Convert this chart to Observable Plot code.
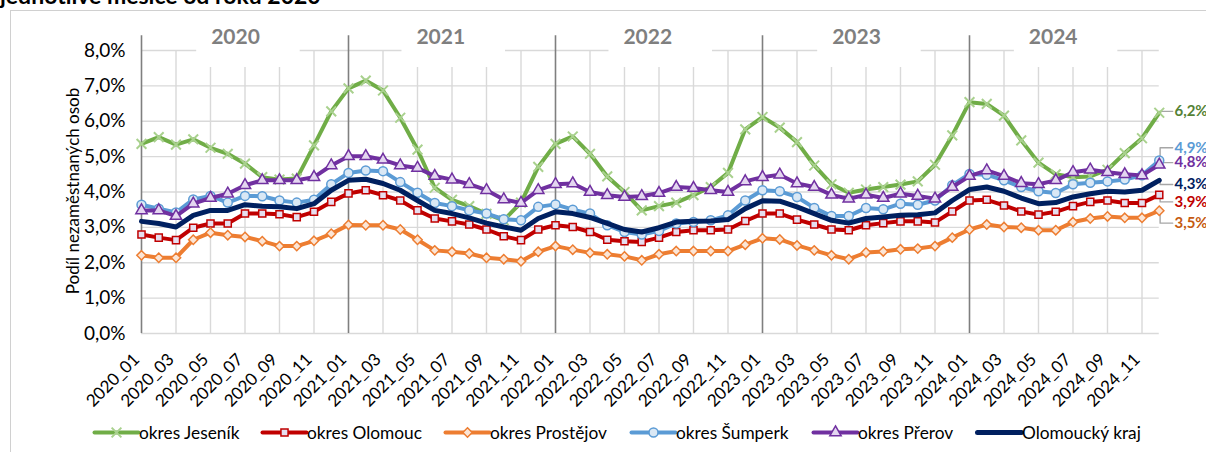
<!DOCTYPE html>
<html><head><meta charset="utf-8">
<script src="https://cdn.jsdelivr.net/npm/d3@7"></script>
<script src="https://cdn.jsdelivr.net/npm/@observablehq/plot@0.6"></script>
<style>
body{margin:0;background:#fff;}
#wrap{position:relative;width:1206px;height:452px;overflow:hidden;background:#fff;font-family:Lato,"Open Sans",sans-serif;}
#frame{position:absolute;left:10px;top:10px;width:1400px;height:700px;border-left:1px solid #d0d0d0;border-top:1px solid #d0d0d0;}
#title{position:absolute;left:0;top:-16px;font-weight:bold;font-size:23px;line-height:23px;color:#000;white-space:nowrap;}
#ytitle{position:absolute;left:72px;top:191px;transform:translate(-50%,-50%) rotate(-90deg);font-size:17px;white-space:nowrap;color:#000;}
#chart{position:absolute;left:0;top:0;}
.lg{position:absolute;top:420px;height:24px;display:flex;align-items:center;font-size:17.3px;color:#000;white-space:nowrap;}
.lg svg{margin-right:1px;}
</style></head>
<body><div id="wrap"><div id="frame"></div><div id="chart"></div><div id="ytitle"></div><div id="title">jednotlivé měsíce od roku 2020</div></div>
<script>
// ---- data ----
const years = [2020, 2021, 2022, 2023, 2024];
const monthNums = ["01","02","03","04","05","06","07","08","09","10","11","12"];
const months = years.flatMap(y => monthNums.map(m => `${y}_${m}`));
const seriesNames = ["okres Jeseník","okres Olomouc","okres Prostějov","okres Šumperk","okres Přerov","Olomoucký kraj"];
const jesenik = [5.36,5.55,5.34,5.49,5.25,5.08,4.80,4.42,4.35,4.38,5.32,6.28,
  6.93,7.15,6.87,6.10,5.20,4.12,3.78,3.60,3.38,3.20,3.70,4.71,
  5.36,5.57,5.08,4.44,4.00,3.48,3.60,3.70,3.91,4.14,4.54,5.77,
  6.12,5.82,5.41,4.75,4.22,3.98,4.07,4.14,4.21,4.30,4.77,5.60,
  6.54,6.49,6.16,5.46,4.83,4.50,4.42,4.44,4.63,5.10,5.52,6.24];
const olomouc = [2.80,2.71,2.64,2.99,3.11,3.11,3.39,3.39,3.37,3.29,3.44,3.72,
  3.96,4.05,3.91,3.76,3.48,3.25,3.17,3.08,2.94,2.75,2.64,2.94,
  3.06,3.01,2.87,2.65,2.61,2.59,2.71,2.87,2.92,2.92,2.94,3.18,
  3.39,3.39,3.22,3.08,2.94,2.92,3.06,3.12,3.17,3.17,3.14,3.45,
  3.76,3.78,3.62,3.45,3.36,3.44,3.60,3.72,3.76,3.69,3.69,3.92];
const prostejov = [2.21,2.14,2.14,2.65,2.85,2.78,2.73,2.61,2.47,2.47,2.62,2.82,
  3.07,3.06,3.06,2.94,2.65,2.35,2.31,2.26,2.14,2.10,2.04,2.31,
  2.47,2.37,2.28,2.24,2.18,2.07,2.24,2.33,2.33,2.33,2.33,2.51,
  2.69,2.66,2.49,2.35,2.21,2.10,2.29,2.32,2.38,2.40,2.47,2.71,
  2.94,3.08,3.01,2.99,2.92,2.92,3.15,3.25,3.31,3.27,3.27,3.47];
const sumperk = [3.64,3.53,3.42,3.79,3.89,3.70,3.89,3.88,3.76,3.70,3.78,4.22,
  4.54,4.61,4.59,4.28,3.98,3.69,3.60,3.48,3.39,3.23,3.20,3.58,
  3.65,3.50,3.39,3.06,2.87,2.80,2.90,3.11,3.15,3.20,3.34,3.76,
  4.05,4.02,3.86,3.55,3.32,3.32,3.55,3.51,3.67,3.64,3.76,4.19,
  4.51,4.49,4.33,4.14,4.02,3.97,4.22,4.26,4.30,4.35,4.47,4.89];
const prerov = [3.48,3.48,3.32,3.67,3.83,3.95,4.19,4.33,4.33,4.33,4.42,4.75,
  5.01,5.01,4.91,4.75,4.68,4.45,4.35,4.22,4.05,3.79,3.69,4.05,
  4.22,4.24,4.00,3.91,3.86,3.88,3.97,4.14,4.11,4.05,4.00,4.30,
  4.42,4.49,4.24,4.14,3.92,3.81,3.92,3.83,3.95,3.89,3.81,4.14,
  4.45,4.61,4.45,4.25,4.22,4.33,4.56,4.63,4.56,4.50,4.47,4.77];
const kraj = [3.17,3.11,3.01,3.34,3.48,3.48,3.64,3.60,3.58,3.53,3.67,4.05,
  4.33,4.36,4.24,4.05,3.76,3.48,3.39,3.27,3.12,3.01,2.92,3.25,
  3.44,3.39,3.28,3.11,2.94,2.87,2.99,3.15,3.17,3.18,3.22,3.53,
  3.75,3.74,3.58,3.39,3.20,3.12,3.25,3.29,3.34,3.36,3.41,3.76,
  4.07,4.14,4.02,3.83,3.67,3.70,3.86,3.95,4.02,4.00,4.05,4.33];
const seriesValues = [jesenik, olomouc, prostejov, sumperk, prerov, kraj];
const yTicks = [0,1,2,3,4,5,6,7,8];
const yTitle = "Podíl nezaměstnaných osob";

// ---- styles / layout ----
const st = [
  {color:"#70AD47", symbol:"times",    fill:"none",    mstroke:"#A9D18E", label:"#548235", w:4,   r:4.5, msw:2},
  {color:"#C00000", symbol:"square",   fill:"#E6DEEF", mstroke:"#C00000", label:"#C00000", w:4,   r:4,   msw:1.5},
  {color:"#ED7D31", symbol:"diamond2", fill:"#FBE5D6", mstroke:"#ED7D31", label:"#C55A11", w:4,   r:4.2, msw:1.5},
  {color:"#5B9BD5", symbol:"circle",   fill:"#DAE8F5", mstroke:"#5B9BD5", label:"#5B9BD5", w:4,   r:4.5, msw:1.5},
  {color:"#7030A0", symbol:"triangle", fill:"#E4D6F0", mstroke:"#7030A0", label:"#7030A0", w:4,   r:4.2, msw:1.5},
  {color:"#002060", symbol:null,       fill:null,      mstroke:null,      label:"#002060", w:5,   r:0,   msw:0}
];
const labelShift = [0.04, -0.20, -0.35, 0.36, 0.06, -0.12];
const yearBoxStart = [3.2, 3.1, 3.1, 3.2, 2.6];
const legendLeft = [94, 262, 445, 631, 813, 977];

const fmt = v => v.toFixed(1).replace(".", ",") + "%";
const last = months.length - 1;
const tickIdx = months.map((_, i) => i).filter(i => i % 2 === 0);

document.getElementById("ytitle").textContent = yTitle;

const marks = [];
// grid
marks.push(Plot.ruleY(yTicks, {stroke:"#d9d9d9", strokeWidth:1.4}));
marks.push(Plot.ruleX(tickIdx.filter(i => i % 12 !== 0), {y1:0, y2:8, stroke:"#d9d9d9", strokeWidth:1.4}));
// year label boxes
marks.push(Plot.rect(years, {x1:(d,k)=>k*12+yearBoxStart[k], x2:(d,k)=>k*12+yearBoxStart[k]+6, y1:7.52, y2:8.7, fill:"white"}));
marks.push(Plot.ruleX(years.map((_,k)=>k*12), {y1:0, y2:8.42, stroke:"#7f7f7f", strokeWidth:1.6}));
marks.push(Plot.text(years, {x:(d,k)=>k*12+yearBoxStart[k]+2.25, y:8.36, text:d=>String(d), fill:"#7f7f7f", fontWeight:"bold", fontSize:21}));
// leaders
const leaders = seriesValues.flatMap((vals, s) => {
  const e = vals[last], l = e + labelShift[s];
  return [{s, x:last+0.05, y:e}, {s, x:last+0.05, y:l}, {s, x:last+0.78, y:l}];
});
marks.push(Plot.line(leaders, {x:"x", y:"y", z:"s", stroke:"#a6a6a6", strokeWidth:1.4}));
// series
seriesValues.forEach((vals, s) => {
  const rows = vals.map((v, i) => ({i, v, m: months[i]}));
  marks.push(Plot.line(rows, {x:"i", y:"v", stroke:st[s].color, strokeWidth:st[s].w, strokeLinejoin:"round"}));
  if (st[s].symbol) marks.push(Plot.dot(rows, {x:"i", y:"v", symbol:st[s].symbol, r:st[s].r, fill:st[s].fill, stroke:st[s].mstroke, strokeWidth:st[s].msw}));
});
// end labels
marks.push(Plot.text(seriesValues.map((vals, s) => ({s, v: vals[last]})), {
  x: () => last + 0.88, y: d => d.v + labelShift[d.s], text: d => fmt(d.v),
  fill: d => st[d.s].label, textAnchor:"start", fontWeight:"bold", fontSize:15}));
// axes
marks.push(Plot.axisY(yTicks, {tickSize:0, tickPadding:16, tickFormat:fmt, fontSize:19, label:null}));
marks.push(Plot.text(tickIdx, {x:d=>d, frameAnchor:"bottom", text:d=>months[d], rotate:-45, textAnchor:"end", dx:-1, dy:27, fontSize:17}));

const chart = Plot.plot({
  width:1206, height:410,
  marginLeft:141, marginRight:1206-1158.75, marginTop:50, marginBottom:77,
  x:{domain:[0,last], axis:null},
  y:{domain:[0,8], axis:null},
  style:{fontFamily:"Lato, 'Open Sans', sans-serif", color:"#000", background:"transparent", overflow:"visible"},
  marks
});
document.getElementById("chart").appendChild(chart);

// legend
const wrap = document.getElementById("wrap");
seriesNames.forEach((name, s) => {
  const div = document.createElement("div");
  div.className = "lg";
  div.style.left = legendLeft[s] + "px";
  const sw = Plot.plot({
    width:44, height:14, margin:0, x:{domain:[0,1], axis:null}, y:{domain:[0,1], axis:null},
    style:{background:"transparent", overflow:"visible"},
    marks:[
      Plot.line([{x:0,y:0.5},{x:1,y:0.5}], {x:"x", y:"y", stroke:st[s].color, strokeWidth:st[s].w}),
      st[s].symbol ? Plot.dot([{x:0.5,y:0.5}], {x:"x", y:"y", symbol:st[s].symbol, r:st[s].r, fill:st[s].fill, stroke:st[s].mstroke, strokeWidth:st[s].msw}) : null
    ]
  });
  div.appendChild(sw);
  const t = document.createElement("span");
  t.textContent = name;
  div.appendChild(t);
  wrap.appendChild(div);
});
</script>
</body></html>
